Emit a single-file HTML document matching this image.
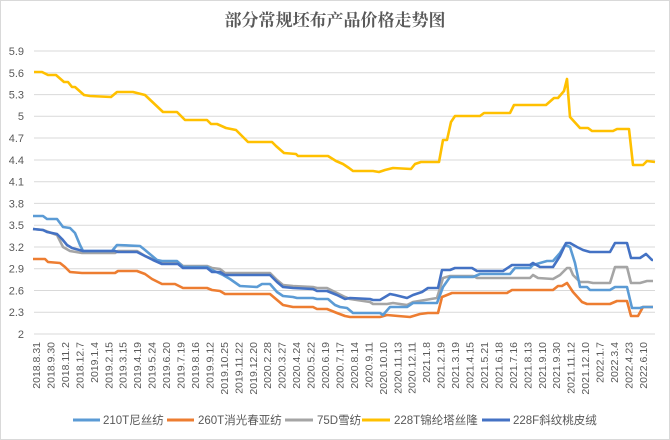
<!DOCTYPE html>
<html><head><meta charset="utf-8"><style>
html,body{margin:0;padding:0;background:#fff}
svg{display:block;font-family:"Liberation Sans","Noto Sans CJK SC",sans-serif}
</style></head><body>
<svg width="670" height="440" viewBox="0 0 670 440" xmlns="http://www.w3.org/2000/svg">
<rect x="0.5" y="0.5" width="669" height="439" fill="#fff" stroke="#d9d9d9"/>
<text x="335" y="26" text-anchor="middle" font-size="17" font-weight="bold" fill="#595959" font-family="'Noto Serif CJK SC','Noto Sans CJK SC',serif">部分常规坯布产品价格走势图</text>
<g stroke="#d9d9d9" stroke-width="1">
<line x1="34" x2="655" y1="51" y2="51"/><line x1="34" x2="655" y1="72.8" y2="72.8"/><line x1="34" x2="655" y1="94.6" y2="94.6"/><line x1="34" x2="655" y1="116.3" y2="116.3"/><line x1="34" x2="655" y1="138" y2="138"/><line x1="34" x2="655" y1="160" y2="160"/><line x1="34" x2="655" y1="181.7" y2="181.7"/><line x1="34" x2="655" y1="203.4" y2="203.4"/><line x1="34" x2="655" y1="225.2" y2="225.2"/><line x1="34" x2="655" y1="247" y2="247"/><line x1="34" x2="655" y1="268.7" y2="268.7"/><line x1="34" x2="655" y1="290.5" y2="290.5"/><line x1="34" x2="655" y1="312.2" y2="312.2"/><line x1="34" x2="655" y1="334" y2="334"/>
</g>
<g font-size="11" fill="#595959" text-anchor="end">
<text x="24" y="55">5.9</text><text x="24" y="77">5.6</text><text x="24" y="98.5">5.3</text><text x="24" y="120">5</text><text x="24" y="142">4.7</text><text x="24" y="164">4.4</text><text x="24" y="185.5">4.1</text><text x="24" y="207.5">3.8</text><text x="24" y="229">3.5</text><text x="24" y="251">3.2</text><text x="24" y="272.5">2.9</text><text x="24" y="294.5">2.6</text><text x="24" y="316">2.3</text><text x="24" y="338">2</text>
</g>
<g font-size="10.5" fill="#595959" text-anchor="end">
<text transform="translate(40,342) rotate(-90)">2018.8.31</text>
<text transform="translate(54.5,342) rotate(-90)">2018.9.30</text>
<text transform="translate(68.9,342) rotate(-90)">2018.11.2</text>
<text transform="translate(83.4,342) rotate(-90)">2018.12.7</text>
<text transform="translate(97.8,342) rotate(-90)">2019.1.4</text>
<text transform="translate(112.3,342) rotate(-90)">2019.2.15</text>
<text transform="translate(126.7,342) rotate(-90)">2019.3.15</text>
<text transform="translate(141.2,342) rotate(-90)">2019.4.19</text>
<text transform="translate(155.6,342) rotate(-90)">2019.5.24</text>
<text transform="translate(170.1,342) rotate(-90)">2019.6.20</text>
<text transform="translate(184.5,342) rotate(-90)">2019.7.19</text>
<text transform="translate(199,342) rotate(-90)">2019.8.16</text>
<text transform="translate(213.4,342) rotate(-90)">2019.9.12</text>
<text transform="translate(227.9,342) rotate(-90)">2019.10.25</text>
<text transform="translate(242.3,342) rotate(-90)">2019.11.22</text>
<text transform="translate(256.8,342) rotate(-90)">2019.12.20</text>
<text transform="translate(271.2,342) rotate(-90)">2020.2.28</text>
<text transform="translate(285.7,342) rotate(-90)">2020.3.27</text>
<text transform="translate(300.1,342) rotate(-90)">2020.4.24</text>
<text transform="translate(314.6,342) rotate(-90)">2020.5.22</text>
<text transform="translate(329,342) rotate(-90)">2020.6.19</text>
<text transform="translate(343.5,342) rotate(-90)">2020.7.17</text>
<text transform="translate(357.9,342) rotate(-90)">2020.8.14</text>
<text transform="translate(372.4,342) rotate(-90)">2020.9.11</text>
<text transform="translate(386.8,342) rotate(-90)">2020.10.10</text>
<text transform="translate(401.3,342) rotate(-90)">2020.11.13</text>
<text transform="translate(415.7,342) rotate(-90)">2020.12.11</text>
<text transform="translate(430.2,342) rotate(-90)">2021.1.8</text>
<text transform="translate(444.6,342) rotate(-90)">2021.2.19</text>
<text transform="translate(459.1,342) rotate(-90)">2021.3.19</text>
<text transform="translate(473.5,342) rotate(-90)">2021.4.15</text>
<text transform="translate(488,342) rotate(-90)">2021.5.21</text>
<text transform="translate(502.4,342) rotate(-90)">2021.6.18</text>
<text transform="translate(516.9,342) rotate(-90)">2021.7.16</text>
<text transform="translate(531.3,342) rotate(-90)">2021.8.13</text>
<text transform="translate(545.8,342) rotate(-90)">2021.9.10</text>
<text transform="translate(560.2,342) rotate(-90)">2021.9.30</text>
<text transform="translate(574.7,342) rotate(-90)">2021.11.12</text>
<text transform="translate(589.1,342) rotate(-90)">2021.12.10</text>
<text transform="translate(603.6,342) rotate(-90)">2022.1.7</text>
<text transform="translate(618,342) rotate(-90)">2022.3.4</text>
<text transform="translate(632.5,342) rotate(-90)">2022.4.23</text>
<text transform="translate(646.9,342) rotate(-90)">2022.6.10</text>
</g>
<g fill="none" stroke-width="2.6" stroke-linejoin="round">
<polyline stroke="#ED7D31" points="33,259 45,259 48,262 60,263 65,267 70,272 82,273 115,273 118,271 137,271 145,274 152,279 162,284 175,284 183,288 207,288 212,290 220,291 225,294 270,294 283,305 293,307 313,307 317,309 327,309 337,313 345,316 350,317 380,317 387,315 398,316 410,317 420,314 428,313 438,313 442,297 452,293 507,293 512,290 553,290 558,286 562,286 567,283 573,292 582,302 587,304 610,304 617,301 627,301 631,316 638,316 643,307 653,307"/>
<polyline stroke="#A5A5A5" points="33,229 43,230 57,235 63,247 70,251 82,253 115,253 118,251 137,251 145,256 157,261 162,262 178,262 183,266 207,266 212,268 220,269 225,273 263,273 270,273 277,280 283,285 293,286 313,287 317,288 327,288 337,293 345,297 350,299 370,302 373,304 387,304 393,303 407,305 413,302 437,298 443,278 450,276 473,276 477,278 530,278 533,275 538,278 553,279 560,275 567,268 570,268 573,275 580,282 588,282 593,283 610,283 615,267 627,267 631,283 640,283 647,281 653,281"/>
<polyline stroke="#5B9BD5" points="33,216 43,216 47,219 57,219 63,227 70,228 75,233 80,245 83,251 112,251 117,245 140,246 145,250 157,260 162,261 177,261 183,267 207,267 212,270 223,275 230,279 240,286 257,287 262,284 270,284 277,292 283,296 293,297 297,298 313,298 317,299 328,299 335,305 340,307 347,308 353,313 380,313 383,315 390,307 407,307 413,303 437,303 443,287 450,277 473,277 480,274 510,274 515,268 530,268 533,265 547,261 553,261 560,253 565,245 570,247 575,263 580,287 587,287 590,290 610,290 615,287 627,287 632,308 640,308 643,307 653,307"/>
<polyline stroke="#4472C4" points="33,229 43,230 47,232 57,234 62,239 67,245 72,248 83,251 115,251 118,252 137,252 145,256 153,260 162,264 178,264 183,268 207,268 212,272 220,272 225,275 270,275 277,282 283,287 293,288 313,289 317,291 327,291 337,295 345,299 350,298 370,299 373,300 380,300 390,294 395,295 407,298 413,295 422,292 428,288 438,288 442,270 450,270 455,268 472,268 477,271 503,271 512,265 530,265 533,263 540,267 553,267 560,256 566,243 570,243 577,247 583,250 590,252 610,252 615,243 627,243 631,258 640,258 646,254 652,260 653,260"/>
<polyline stroke="#FFC000" points="34,72 42,72 48,75 56,75 64,82 68,82 72,87 75,87 84,95 90,96 111,97 117,92 133,92 137,93 145,95 163,112 177,112 185,120 207,120 211,124 217,124 226,128 236,130 248,142 272,142 276,146 284,153 296,154 298,156 328,156 336,161 343,164 349,168 353,171 373,171 379,172 385,170 393,168 411,169 415,164 421,162 439,162 443,140 447,140 451,122 455,116 480,116 484,113 510,113 514,105 546,105 554,98 558,98 564,91 567,79 570,117 580,128 588,128 592,131 613,131 617,129 629,129 633,165 643,165 647,161 655,162"/>
</g>
<g stroke-width="3">
<line x1="73" x2="100" y1="420" y2="420" stroke="#5B9BD5"/>
<line x1="167" x2="194" y1="420" y2="420" stroke="#ED7D31"/>
<line x1="285" x2="313" y1="420" y2="420" stroke="#A5A5A5"/>
<line x1="362" x2="390" y1="420" y2="420" stroke="#FFC000"/>
<line x1="482" x2="510" y1="420" y2="420" stroke="#4472C4"/>
</g>
<g font-size="11.5" fill="#595959">
<text x="103" y="424">210T尼丝纺</text>
<text x="198" y="424">260T消光春亚纺</text>
<text x="317" y="424">75D雪纺</text>
<text x="394" y="424">228T锦纶塔丝隆</text>
<text x="513" y="424">228F斜纹桃皮绒</text>
</g>
</svg>
</body></html>
